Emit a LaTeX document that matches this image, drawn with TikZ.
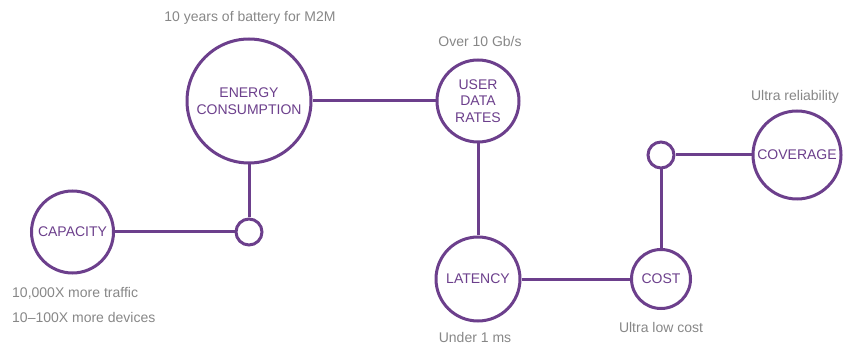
\documentclass[tikz,border=0pt]{standalone}
\usepackage{fontspec}
\setmainfont{Liberation Sans}
\usepackage{tikz}
\definecolor{ringpurple}{RGB}{108,63,140}
\definecolor{notegray}{RGB}{135,135,135}
\tikzset{ring/.style={circle, draw=ringpurple, line width=3pt, fill=white, inner sep=0pt,
  text=ringpurple, align=center, font=\fontsize{14}{16.5}\selectfont}}
\tikzset{joint/.style={circle, draw=ringpurple, line width=3pt, fill=white, inner sep=0pt, minimum size=26pt}}
\tikzset{link/.style={draw=ringpurple, line width=3pt}}
\tikzset{note/.style={text=notegray, inner sep=0pt, font=\fontsize{14}{16}\selectfont}}

\begin{document}
\begin{tikzpicture}[x=1pt, y=-1pt]

\useasboundingbox (0,0) rectangle (850,344);

\node [ring, minimum size=124pt] (energy) at (249, 101) {ENERGY\\CONSUMPTION};
\node [ring, minimum size=82pt] (rates) at (478, 101) {USER\\DATA\\RATES};
\node [ring, minimum size=82pt] (capacity) at (72.5, 232) {CAPACITY};
\node [joint] (capjoint) at (249, 232) {};
\node [ring, minimum size=84pt] (latency) at (478, 279) {LATENCY};
\node [ring, minimum size=59pt] (cost) at (661, 279) {COST};
\node [joint] (costjoint) at (661, 155) {};
\node [ring, minimum size=88pt] (coverage) at (797, 155) {COVERAGE};

\draw [link] (energy) -- (rates);
\draw [link] (rates) -- (latency);
\draw [link] (energy) -- (capjoint);
\draw [link] (capacity) -- (capjoint);
\draw [link] (latency) -- (cost);
\draw [link] (cost) -- (costjoint);
\draw [link] (costjoint) -- (coverage);

\node [note] (battery) at (250, 18) {10 years of battery for M2M};
\node [note] (speed) at (480, 41) {Over 10 Gb/s};
\node [note] (reliable) at (795, 97) {Ultra reliability};
\node [note, anchor=west] (traffic) at (12, 293) {10,000X more traffic};
\node [note, anchor=west] (devices) at (12, 317) {10--100X more devices};
\node [note] (delay) at (475, 337) {Under 1 ms};
\node [note] (cheap) at (661, 327) {Ultra low cost};

\end{tikzpicture}
\end{document}
